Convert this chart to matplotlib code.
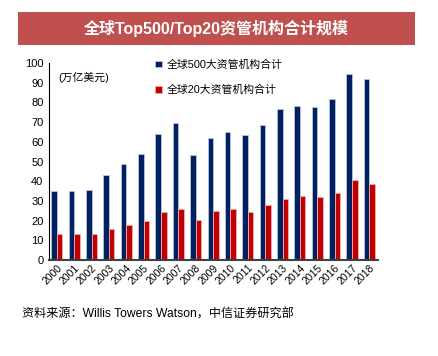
import numpy as np
import matplotlib.pyplot as plt
from matplotlib.patches import Rectangle

plt.rcParams['font.family'] = ['Liberation Sans', 'Noto Sans CJK SC', 'DejaVu Sans']

# 데이터
years = [str(y) for y in range(2000, 2019)]
top500 = [35.1, 35.0, 35.4, 43.2, 48.8, 53.7, 63.9, 69.7, 53.4, 62.0,
          64.9, 63.2, 68.5, 76.6, 78.3, 77.5, 81.9, 94.6, 91.9]
top20 = [13.2, 13.4, 13.2, 15.9, 18.0, 19.8, 24.4, 25.8, 20.3, 24.7,
         26.1, 24.2, 28.0, 31.2, 32.5, 32.0, 34.1, 40.5, 38.5]
label500 = "全球500大资管机构合计"
label20 = "全球20大资管机构合计"
title = "全球Top500/Top20资管机构合计规模"
unit = "(万亿美元)"
source = "资料来源：Willis Towers Watson，中信证券研究部"

blue = "#002060"
red = "#C00000"

fig = plt.figure(figsize=(4.38, 3.56), dpi=100)

# 제목 배너
fig.patches.append(Rectangle((18 / 438, 1 - 45 / 356), (415 - 18) / 438, 33 / 356,
                             transform=fig.transFigure, facecolor="#C0504D",
                             edgecolor="none"))
fig.text(216 / 438, 1 - 28.5 / 356, title, color="white", fontsize=11.5,
         fontweight="bold", ha="center", va="center")

ax = fig.add_axes([49 / 438, 1 - 260 / 356, (378 - 49) / 438, (260 - 63) / 356])
x = np.arange(len(years))
w = 0.32
ax.bar(x - w / 2, top500, w, color=blue, edgecolor="#b8c4dc", linewidth=0.6,
       label=label500)
ax.bar(x + w / 2, top20, w, color=red, edgecolor="#f0b0b0", linewidth=0.6,
       label=label20)

ax.set_xlim(-0.45, len(years) - 0.5)
ax.set_ylim(0, 100)
ax.set_yticks(range(0, 101, 10))
ax.tick_params(axis="y", labelsize=8, length=0, pad=4)
ax.set_xticks(x)
ax.set_xticklabels(years, rotation=45, ha="right", rotation_mode="anchor",
                   fontsize=7.5)
ax.tick_params(axis="x", length=0, pad=2)
for s in ["top", "right"]:
    ax.spines[s].set_visible(False)
ax.spines["left"].set_color("black")
ax.spines["left"].set_linewidth(0.8)
ax.spines["bottom"].set_color("#404040")
ax.spines["bottom"].set_linewidth(1.5)

ax.text(0.03, 0.955, unit, transform=ax.transAxes, fontsize=7.8, va="top")

ax.legend(loc="upper left", bbox_to_anchor=(150 / 438, 1 - 54 / 356),
          bbox_transform=fig.transFigure, frameon=False, fontsize=7.8,
          handlelength=0.6, handleheight=0.6, handletextpad=0.4,
          labelspacing=1.4, borderpad=0)

fig.text(22 / 438, 1 - 315 / 356, source, fontsize=8.7, va="center")

fig.savefig("out.png", dpi=100)
